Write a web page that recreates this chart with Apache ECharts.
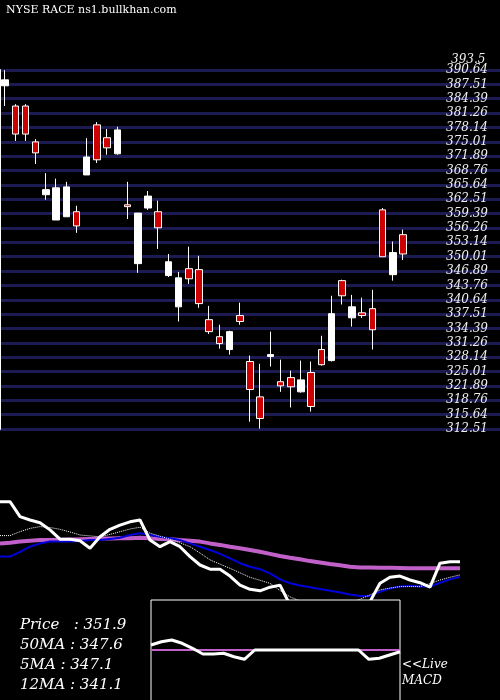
<!DOCTYPE html>
<html><head><meta charset="utf-8">
<script src="https://cdn.jsdelivr.net/npm/echarts@6/dist/echarts.min.js"></script>
<style>html,body{margin:0;background:#000}#main{width:500px;height:700px}</style>
</head><body><div id="main"></div>
<script>
// candles: [open, close, low, high]
var candles = [
  [387.2,388.5,382.8,390.6],[382.8,376.7,375.2,383.2],[382.8,376.7,375.2,383.2],[375.0,372.6,370.2,375.6],
  [363.5,364.6,362.4,368.2],[358.0,365.0,358.0,367.0],[358.7,365.2,358.7,366.3],[359.8,356.7,355.2,361.1],
  [367.8,371.7,367.8,375.8],[378.7,371.1,370.4,379.3],[375.9,373.7,372.2,377.8],[372.4,377.6,372.2,378.3],
  [361.3,360.9,358.2,366.3],[348.5,359.5,346.5,359.5],[360.6,363.2,360.2,364.3],[359.8,356.3,351.7,362.2],
  [345.9,348.9,345.6,350.6],[339.1,345.4,335.9,346.7],[347.4,345.2,344.1,352.2],[347.2,339.8,338.9,350.2],
  [336.3,333.7,333.2,339.3],[332.6,331.1,330.0,335.2],[329.8,333.7,328.7,333.9],[337.2,335.9,335.2,340.0],
  [327.2,321.1,314.1,328.5],[319.5,314.8,312.6,326.7],[328.3,328.7,326.1,333.7],[322.8,321.9,320.6,327.6],
  [323.7,321.7,317.2,325.2],[320.6,323.2,320.4,327.4],[324.8,317.4,316.3,327.2],[329.8,326.5,326.3,332.8],
  [327.4,337.6,327.2,341.5],[344.8,341.5,339.6,345.0],[336.7,339.1,334.8,341.7],[337.8,337.2,336.7,341.1],
  [338.7,334.1,329.8,342.8],[360.2,350.0,350.0,360.6],[346.1,350.9,344.8,353.3],[354.8,350.6,349.3,355.9]
];
var yTicks = ['312.51','315.64','318.76','321.89','325.01','328.14','331.26','334.39','337.51','340.64','343.76','346.89','350.01','353.14','356.26','359.39','362.51','365.64','368.76','371.89','375.01','378.14','381.26','384.39','387.51','390.64'];
var topLabel = '393.5';
// lower panel (relative units)
var priceLine = [66.1,66.1,61.1,60,59.1,56.7,53.6,53.6,53.1,50.6,54.4,56.9,58.3,59.4,60,53.3,51.1,52.8,51.1,47.8,45,43.6,43.6,41.3,38.3,36.9,36.4,37.6,38.3,31.7,30,31.1,29.4,27.8,28.9,28.3,29.4,32.8,38.9,40.9,41.3,40,39.1,37.6,45.6,46.1,46.1];
var ma5 = [54.8,54.8,56.1,57.2,57.8,57.5,56.9,56,55,54.7,54.4,55.2,56.1,57,57.6,55.6,54.6,53.6,52.4,51.1,49,46.7,45.3,43.9,42.4,40.9,39.9,38.9,36.5,34.4,33,32,31.5,31.3,31.6,32.4,33.6,35,36.7,37.3,37.8,37.8,37.8,38.8,40,40.9,41.7];
var ma12 = [47.8,47.8,49.4,51.1,52.2,52.8,52.8,52.8,53,53.3,53.3,53.7,54.1,55,55.6,55,54.4,53.9,53.3,52.2,51.1,50,48.7,47.2,45.6,44.4,43.6,42.2,40.2,38.9,38.2,37.6,37,36.4,35.8,35.2,34.7,34.7,36.1,37.2,37.8,38.1,37.8,37.8,39.1,40.2,41.1];
var ma50 = [52.2,52.4,52.8,53.1,53.3,53.3,53.4,53.5,53.6,53.7,53.8,53.8,53.9,53.9,54.1,53.9,53.7,53.6,53.3,53.1,52.8,52.2,51.7,51.1,50.6,50,49.4,48.7,48,47.4,46.9,46.3,45.8,45.3,44.9,44.4,44.2,44.2,44.1,44.1,44,43.9,43.9,43.9,43.9,43.9,43.9];
var macd = [5,8.3,10,6.7,1.7,-4,-4,-3.3,-6.7,-9.3,0,0,0,0,0,0,0,0,0,0,0,-9.3,-8.3,-5,-1.7];
var macdSignal = [0,0,0,0,0,0,0,0,0,0,0,0,0,0,0,0,0,0,0,0,0,0,0,0,0];
var infoLines = ['Price   : 351.9','50MA : 347.6','5MA : 347.1','12MA : 341.1'];

var serif = 'DejaVu Serif';
var idx = function(n){ return Array.from({length:n}, function(_, i){ return i; }); };
var myChart = echarts.init(document.getElementById('main'));
var option = {
  backgroundColor: '#000',
  animation: false,
  grid: [
    {left: 0, right: 0, top: 70, height: 359},
    {left: 0, width: 460, top: 490, height: 210},
    {left: 151, width: 249, top: 600, height: 100}
  ],
  xAxis: [
    {gridIndex: 0, type: 'category', data: idx(49), show: false},
    {gridIndex: 1, type: 'category', data: idx(47), boundaryGap: false, show: false},
    {gridIndex: 2, type: 'category', data: idx(25), boundaryGap: false, show: false}
  ],
  yAxis: [
    {gridIndex: 0, type: 'value', position: 'right', min: 312.51, max: 390.64, interval: 3.125,
      axisLine: {show: false}, axisTick: {show: false},
      splitLine: {lineStyle: {color: '#1c1c52', width: 3}},
      axisLabel: {inside: true, margin: 12, color: '#eee', fontFamily: serif, fontStyle: 'italic', fontSize: 12,
        padding: [9, 0, 0, 0],
        formatter: function(v){ var i = Math.round((v - 312.51) / 3.125); return yTicks[i] || ''; }}},
    {gridIndex: 0, type: 'value', position: 'left', min: 312.51, max: 390.64, show: true,
      axisLine: {show: true, lineStyle: {color: '#fff', width: 2}}, axisTick: {show: false},
      axisLabel: {show: false}, splitLine: {show: false}},
    {gridIndex: 1, type: 'value', min: 0, max: 70, show: false},
    {gridIndex: 2, type: 'value', min: -50, max: 50, show: false}
  ],
  graphic: [
    {type: 'text', left: 6, top: 5, style: {text: 'NYSE RACE ns1.bullkhan.com', fill: '#fff', font: '11px "DejaVu Serif"'}},
    {type: 'text', left: 451, top: 54, style: {text: topLabel, fill: '#eee', font: 'italic 12px "DejaVu Serif"'}},
    {type: 'rect', z: 100, shape: {x: 151, y: 600, width: 249, height: 102},
      style: {fill: '#000', stroke: '#fff', lineWidth: 1}},
    {type: 'text', z: 100, left: 402, top: 657, style: {text: '<<Live\nMACD', fill: '#fff', font: 'italic 12px "DejaVu Serif"', lineHeight: 16}}
  ].concat(infoLines.map(function(t, i){
    return {type: 'text', left: 20, top: 618 + i * 20, style: {text: t, fill: '#fff', font: 'italic 15px "DejaVu Serif"'}};
  })),
  series: [
    {type: 'candlestick', xAxisIndex: 0, yAxisIndex: 0, data: candles, barWidth: 7,
      itemStyle: {color: '#fff', color0: '#cc0000', borderColor: '#fff', borderColor0: '#fff', borderWidth: 1}},
    {type: 'line', xAxisIndex: 1, yAxisIndex: 2, data: ma50, symbol: 'none', lineStyle: {color: '#c060c8', width: 4}},
    {type: 'line', xAxisIndex: 1, yAxisIndex: 2, data: ma12, symbol: 'none', lineStyle: {color: '#0000dd', width: 2}},
    {type: 'line', xAxisIndex: 1, yAxisIndex: 2, data: ma5, symbol: 'none', lineStyle: {color: '#fff', width: 1, type: 'dotted'}},
    {type: 'line', xAxisIndex: 1, yAxisIndex: 2, data: priceLine, symbol: 'none', lineStyle: {color: '#fff', width: 3}},
    {type: 'line', xAxisIndex: 2, yAxisIndex: 3, data: macdSignal, symbol: 'none', z: 110, lineStyle: {color: '#c060c8', width: 2}},
    {type: 'line', xAxisIndex: 2, yAxisIndex: 3, data: macd, symbol: 'none', z: 111, lineStyle: {color: '#fff', width: 3}}
  ]
};
myChart.setOption(option);
</script></body></html>
